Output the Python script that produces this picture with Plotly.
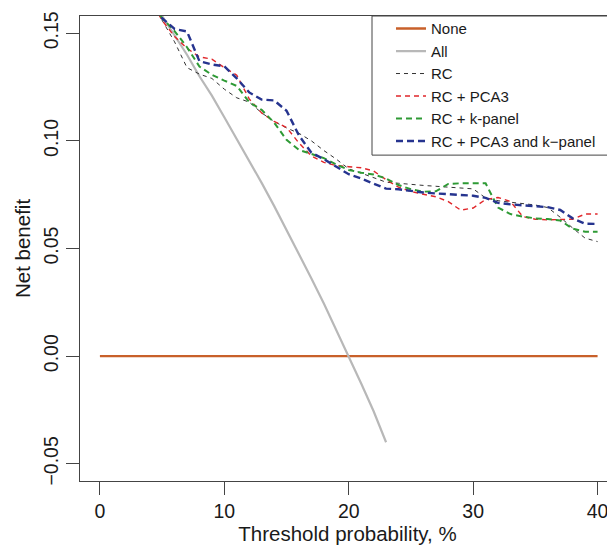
import plotly.graph_objects as go

# ---- data (threshold probability in %, net benefit) ----
thr_none = [0, 40]
nb_none = [0.0, 0.0]

thr_all = list(range(0, 24))
nb_all = [0.200, 0.192, 0.184, 0.175, 0.167, 0.158, 0.149, 0.140, 0.130, 0.121,
          0.111, 0.101, 0.091, 0.0805, 0.0698, 0.0588, 0.0476, 0.0361, 0.0244, 0.0123,
          0.0, -0.0127, -0.0256, -0.0400]

thr_models = list(range(4, 41))
nb_rc = [0.166, 0.156, 0.146, 0.134, 0.131, 0.129, 0.124, 0.120, 0.118, 0.113,
         0.109, 0.106, 0.1035, 0.1000, 0.0955, 0.0915, 0.0870, 0.0850, 0.0830, 0.0808,
         0.0803, 0.0797, 0.0793, 0.0789, 0.0785, 0.0781, 0.0777, 0.0735, 0.0722, 0.0715,
         0.0709, 0.0702, 0.0690, 0.0645, 0.0595, 0.0548, 0.0532]
nb_rc_pca3 = [0.166, 0.156, 0.1485, 0.143, 0.139, 0.138, 0.134, 0.1305, 0.1195, 0.113,
              0.109, 0.1062, 0.0990, 0.0930, 0.0900, 0.0885, 0.0880, 0.0875, 0.0860, 0.0820,
              0.0785, 0.0765, 0.0752, 0.0740, 0.0718, 0.0678, 0.0688, 0.0728, 0.0737, 0.0718,
              0.0648, 0.0636, 0.0633, 0.0633, 0.0636, 0.0660, 0.0660]
nb_rc_kpanel = [0.166, 0.157, 0.151, 0.1435, 0.1345, 0.1307, 0.128, 0.1255, 0.118, 0.1144,
                0.1085, 0.1005, 0.0958, 0.0940, 0.0920, 0.0890, 0.0865, 0.0852, 0.0844, 0.0825,
                0.0795, 0.0775, 0.0764, 0.0766, 0.0800, 0.0803, 0.0803, 0.0803, 0.0690, 0.0660,
                0.0648, 0.0640, 0.0637, 0.0630, 0.0592, 0.0578, 0.0578]
nb_rc_pca3_kpanel = [0.166, 0.157, 0.152, 0.1508, 0.137, 0.1355, 0.1346, 0.129, 0.1225, 0.1192,
                     0.1188, 0.1140, 0.1025, 0.0945, 0.0915, 0.0880, 0.0845, 0.0825, 0.0800, 0.0778,
                     0.0775, 0.0767, 0.0760, 0.0756, 0.0752, 0.0750, 0.0745, 0.0735, 0.0712, 0.0705,
                     0.0700, 0.0697, 0.0692, 0.0679, 0.0640, 0.0615, 0.0614]

x_ticks = [0, 10, 20, 30, 40]
y_ticks = [-0.05, 0.0, 0.05, 0.10, 0.15]

FONT = "Liberation Sans, Arial, sans-serif"

fig = go.Figure()
fig.add_trace(go.Scatter(x=thr_none, y=nb_none, mode="lines", name="None",
                         line=dict(color="#C8602A", width=2.4)))
fig.add_trace(go.Scatter(x=thr_all, y=nb_all, mode="lines", name="All",
                         line=dict(color="#B8B8B8", width=2.2)))
fig.add_trace(go.Scatter(x=thr_models, y=nb_rc, mode="lines", name="RC",
                         line=dict(color="#333333", width=1, dash="4px,4px")))
fig.add_trace(go.Scatter(x=thr_models, y=nb_rc_pca3, mode="lines", name="RC + PCA3",
                         line=dict(color="#E0262A", width=1.4, dash="5px,4px")))
fig.add_trace(go.Scatter(x=thr_models, y=nb_rc_kpanel, mode="lines", name="RC + k-panel",
                         line=dict(color="#2E9A35", width=2, dash="6px,4px")))
fig.add_trace(go.Scatter(x=thr_models, y=nb_rc_pca3_kpanel, mode="lines",
                         name="RC + PCA3 and k\u2212panel",
                         line=dict(color="#26348F", width=2.4, dash="7px,4px")))

# page body adds an 8px offset, so the figure is 8px smaller and shifted accordingly
fig.update_layout(
    width=607, height=539,
    margin=dict(l=72, r=0, t=8, b=66, autoexpand=False),
    paper_bgcolor="white", plot_bgcolor="white",
    font=dict(family=FONT, size=19.5, color="#1a1a1a"),
    showlegend=True,
    legend=dict(x=(391 - 80) / 535, xanchor="left", y=1.008, yanchor="top",
                bgcolor="rgba(0,0,0,0)", borderwidth=0,
                font=dict(family=FONT, size=15, color="#1a1a1a"),
                tracegroupgap=0),
    shapes=[dict(type="rect", xref="paper", yref="paper",
                 x0=(372 - 80) / 535, x1=1.05, y0=(481.3 - 155) / 465.6, y1=1.0,
                 line=dict(color="#444444", width=1), fillcolor="white", layer="above")],
    xaxis=dict(range=[-1.6, 41.4], tickvals=x_ticks, ticktext=[str(v) for v in x_ticks],
               showgrid=False, zeroline=False,
               showline=True, mirror=True, linecolor="#444444", linewidth=1,
               ticks="outside", ticklen=13, tickcolor="#444444", tickwidth=1,
               tickfont=dict(size=19.5),
               title=dict(text="Threshold probability, %", font=dict(size=20.5), standoff=4)),
    yaxis=dict(range=[-0.058, 0.158], tickvals=y_ticks, tickformat=".2f",
               showgrid=False, zeroline=False,
               showline=True, mirror=False, linecolor="#444444", linewidth=1,
               ticks="outside", ticklen=13, tickcolor="#444444", tickwidth=1,
               tickangle=-90, tickfont=dict(size=19.5),
               title=dict(text="Net benefit", font=dict(size=20.5), standoff=4)),
)

fig.write_html("out.html")
